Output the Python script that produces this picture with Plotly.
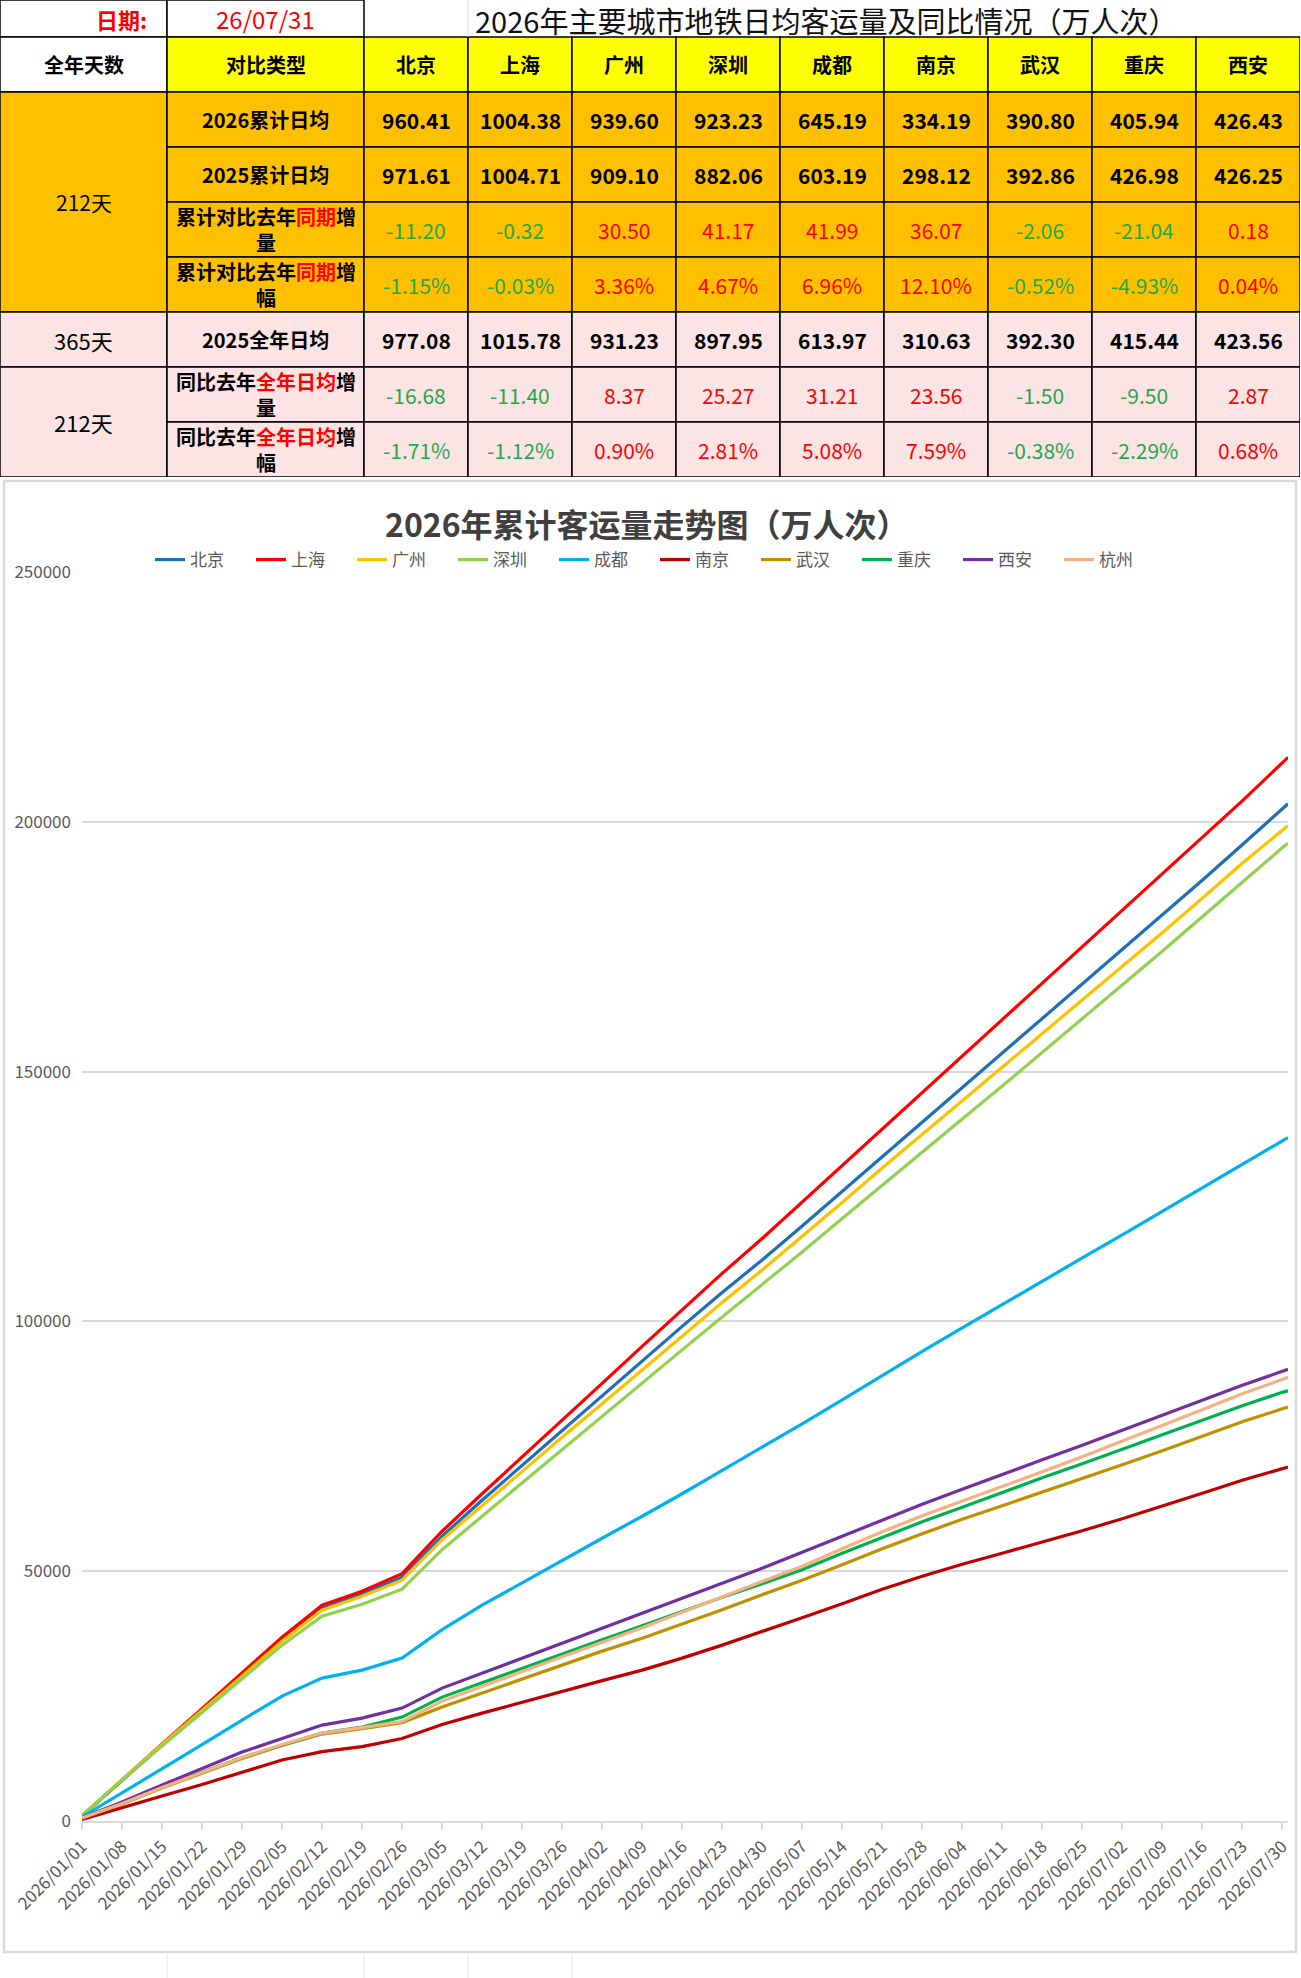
import pandas as pd
import plotly.graph_objects as go

W, H = 1301, 1978
FONT = "Noto Sans CJK SC"

# ---------------- 表格数据 ----------------
cities = ['北京', '上海', '广州', '深圳', '成都', '南京', '武汉', '重庆', '西安']
avg_2026 = [960.41, 1004.38, 939.60, 923.23, 645.19, 334.19, 390.80, 405.94, 426.43]
avg_2025 = [971.61, 1004.71, 909.10, 882.06, 603.19, 298.12, 392.86, 426.98, 426.25]
diff_same = [-11.20, -0.32, 30.50, 41.17, 41.99, 36.07, -2.06, -21.04, 0.18]
pct_same = [-1.15, -0.03, 3.36, 4.67, 6.96, 12.10, -0.52, -4.93, 0.04]
full_2025 = [977.08, 1015.78, 931.23, 897.95, 613.97, 310.63, 392.30, 415.44, 423.56]
diff_full = [-16.68, -11.40, 8.37, 25.27, 31.21, 23.56, -1.50, -9.50, 2.87]
pct_full = [-1.71, -1.12, 0.90, 2.81, 5.08, 7.59, -0.38, -2.29, 0.68]

RED_TXT = '#FF0000'
GREEN_TXT = '#1FA84A'
red = lambda s: f'<span style="color:{RED_TXT}">{s}</span>'

row_labels = [
    '2026累计日均',
    '2025累计日均',
    '累计对比去年' + red('同期') + '增<br>量',
    '累计对比去年' + red('同期') + '增<br>幅',
    '2025全年日均',
    '同比去年' + red('全年日均') + '增<br>量',
    '同比去年' + red('全年日均') + '增<br>幅',
]
row_values = [avg_2026, avg_2025, diff_same, pct_same, full_2025, diff_full, pct_full]
row_is_pct = [False, False, False, True, False, False, True]
row_signed = [False, False, True, True, False, True, True]

date_text = '26/07/31'
table_title = '2026年主要城市地铁日均客运量及同比情况（万人次）'

# ---------------- 折线数据（万人次，每周一个点） ----------------
x_dates = list(pd.date_range('2026-01-01', '2026-07-30', freq='7D').strftime('%Y-%m-%d')) + ['2026-07-31']

beijing = [1000, 8200, 15200, 22200, 29200, 36300, 42600, 45500, 48800, 57000, 64200, 71200, 78200, 85000,
           92000, 99000, 105800, 112300, 119100, 126000, 133000, 139900, 146800, 153700, 160500, 167400,
           174300, 181300, 188300, 195400, 202600, 203600]
shanghai = [1000, 8300, 15400, 22500, 29600, 36800, 43200, 46000, 49500, 58000, 65500, 72800, 80200, 87600,
            95000, 102400, 109600, 116600, 123900, 131200, 138600, 145900, 153200, 160500, 167800, 175000,
            182300, 189600, 196900, 204200, 211800, 212900]
guangzhou = [1000, 8300, 15300, 22100, 29000, 36000, 42200, 45000, 48200, 56300, 63200, 70000, 76800, 83500,
             90300, 97100, 103800, 110300, 117000, 123800, 130700, 137400, 144100, 150800, 157500, 164200,
             171000, 177800, 184700, 191700, 198300, 199200]
shenzhen = [1000, 8200, 15000, 21800, 28500, 35200, 41000, 43400, 46400, 54300, 61000, 67700, 74300, 80900,
            87600, 94300, 100900, 107300, 113900, 120600, 127300, 133900, 140500, 147100, 153800, 160500,
            167300, 174100, 181000, 188000, 194800, 195700]
chengdu = [800, 5600, 10500, 15300, 20200, 25000, 28600, 30200, 32600, 38300, 43200, 47700, 52200, 56600,
           61000, 65500, 70200, 74800, 79500, 84300, 89200, 94000, 98700, 103400, 108100, 112700,
           117300, 122000, 126800, 131500, 136100, 136800]
nanjing = [300, 2700, 5000, 7300, 9800, 12200, 13900, 14900, 16500, 19300, 21600, 23800, 26000, 28100,
           30200, 32600, 35200, 37900, 40700, 43500, 46400, 49000, 51400, 53600, 55800, 58100,
           60500, 63000, 65600, 68200, 70500, 70850]
wuhan = [600, 3400, 6600, 9500, 12500, 15100, 17400, 18500, 19700, 22800, 25600, 28400, 31200, 34000,
         36600, 39400, 42300, 45300, 48200, 51300, 54500, 57500, 60400, 63100, 65800, 68500,
         71300, 74100, 77000, 79900, 82500, 82850]
chongqing = [700, 3600, 6800, 9700, 12700, 15200, 17600, 18800, 20800, 24800, 27700, 30600, 33500, 36300,
             39100, 42000, 44800, 47500, 50300, 53600, 56800, 59900, 62800, 65800, 68700, 71500,
             74400, 77300, 80200, 83100, 85800, 86100]
xian = [600, 3800, 7200, 10500, 13800, 16500, 19200, 20600, 22600, 26600, 29600, 32600, 35600, 38600,
        41500, 44500, 47600, 50600, 53800, 57000, 60300, 63400, 66400, 69400, 72300, 75200,
        78200, 81200, 84200, 87200, 90000, 90400]
hangzhou = [600, 3500, 6700, 9700, 12700, 15300, 17600, 18700, 19900, 24000, 26900, 29900, 32900, 35800,
            38700, 41800, 44900, 47900, 51000, 54500, 57900, 61100, 64000, 67000, 69900, 72900,
            76000, 79100, 82300, 85500, 88400, 88800]

series = [
    ('北京', beijing, '#1F6FB8'),
    ('上海', shanghai, '#FF0000'),
    ('广州', guangzhou, '#FFC000'),
    ('深圳', shenzhen, '#92D050'),
    ('成都', chengdu, '#00B0F0'),
    ('南京', nanjing, '#C00000'),
    ('武汉', wuhan, '#BF9000'),
    ('重庆', chongqing, '#00B050'),
    ('西安', xian, '#7030A0'),
    ('杭州', hangzhou, '#F4B183'),
]

chart_title = '2026年累计客运量走势图（万人次）'

# ---------------- 版面（像素） ----------------
col_w = [167, 197] + [104] * 9
row_h = [37, 55, 55, 55, 55, 55, 55, 55, 55]
cx = [0]
for w in col_w:
    cx.append(cx[-1] + w)
ry = [0]
for h in row_h:
    ry.append(ry[-1] + h)

def px(x):
    return x / W

def py(y):
    return 1 - y / H

fig = go.Figure()

for name, vals, color in series:
    fig.add_trace(go.Scatter(x=x_dates, y=vals, mode='lines', name=name,
                             line=dict(color=color, width=3.2), xaxis='x', yaxis='y'))

# 表格用的坐标轴
fig.add_trace(go.Scatter(x=[], y=[], xaxis='x2', yaxis='y2', showlegend=False, hoverinfo='skip'))

shapes = []
annos = []

def cell(c0, c1, r0, r1, fill, line='#000000', lw=1.5):
    shapes.append(dict(type='rect', xref='x2', yref='y2', x0=cx[c0], x1=cx[c1], y0=ry[r0], y1=ry[r1],
                       fillcolor=fill, line=dict(color=line, width=lw), layer='below'))

def text(c0, c1, r0, r1, s, size=20, color='#000000', xanchor='center', dx=0, bold=False):
    x = (cx[c0] + cx[c1]) / 2 if xanchor == 'center' else cx[c1] + dx
    annos.append(dict(xref='x2', yref='y2', x=x, y=(ry[r0] + ry[r1]) / 2, text=s, showarrow=False,
                      xanchor=xanchor, yanchor='middle',
                      font=dict(family=FONT, size=size, color=color, weight=700 if bold else 400)))

ORANGE = '#FFC000'
PINK = '#FDE4E4'
YELLOW = '#FFFF00'

# 标题行
shapes.append(dict(type='line', xref='x2', yref='y2', x0=cx[3], x1=cx[3], y0=ry[0], y1=ry[1],
                   line=dict(color='#D6D6D6', width=1)))
cell(0, 1, 0, 1, 'white')
cell(1, 2, 0, 1, 'white')
text(0, 1, 0, 1, '日期:', size=22, color=RED_TXT, xanchor='right', dx=-18, bold=True)
text(1, 2, 0, 1, date_text, size=24, color=RED_TXT)
annos.append(dict(xref='x2', yref='y2', x=cx[3] + 5, y=(ry[0] + ry[1]) / 2 + 1, text=table_title,
                  showarrow=False, xanchor='left', yanchor='middle',
                  font=dict(family=FONT, size=29, color='#111111')))

# 表头
cell(0, 1, 1, 2, 'white')
text(0, 1, 1, 2, '全年天数', bold=True)
cell(1, 2, 1, 2, YELLOW)
text(1, 2, 1, 2, '对比类型', bold=True)
for i, c in enumerate(cities):
    cell(2 + i, 3 + i, 1, 2, YELLOW)
    text(2 + i, 3 + i, 1, 2, c, bold=True)

# 左侧合并单元格
cell(0, 1, 2, 6, ORANGE)
text(0, 1, 2, 6, '212天', size=21)
cell(0, 1, 6, 7, PINK)
text(0, 1, 6, 7, '365天', size=22)
cell(0, 1, 7, 9, PINK)
text(0, 1, 7, 9, '212天', size=22)

for r, (lab, vals) in enumerate(zip(row_labels, row_values)):
    rr = 2 + r
    fill = ORANGE if r < 4 else PINK
    cell(1, 2, rr, rr + 1, fill)
    text(1, 2, rr, rr + 1, lab, bold=True)
    for i, v in enumerate(vals):
        cell(2 + i, 3 + i, rr, rr + 1, fill)
        s = f'{v:.2f}%' if row_is_pct[r] else f'{v:.2f}'
        col = '#000000'
        if row_signed[r]:
            col = GREEN_TXT if v < 0 else RED_TXT
        text(2 + i, 3 + i, rr, rr + 1, s, size=21, color=col, bold=not row_signed[r])

# 图表外框与工作表网格线
shapes.append(dict(type='rect', xref='paper', yref='paper', x0=px(4), x1=px(1296), y0=py(1952), y1=py(481),
                   line=dict(color='#D9D9D9', width=2.5), fillcolor='rgba(0,0,0,0)', layer='below'))
for e in cx[1:5]:
    shapes.append(dict(type='line', xref='paper', yref='paper', x0=px(e), x1=px(e), y0=py(1978), y1=py(1954),
                       line=dict(color='#E6E6E6', width=1)))

annos.append(dict(xref='paper', yref='paper', x=px(647), y=py(523), text='<b>' + chart_title + '</b>',
                  showarrow=False, xanchor='center', yanchor='middle',
                  font=dict(family=FONT, size=32, color='#404040')))

fig.update_layout(
    width=W, height=H, margin=dict(l=0, r=0, t=0, b=0, autoexpand=False),
    paper_bgcolor='white', plot_bgcolor='white',
    font=dict(family=FONT, color='#595959'),
    shapes=shapes, annotations=annos,
    showlegend=True,
    legend=dict(orientation='h', x=px(150), y=py(560), xanchor='left', yanchor='middle',
                font=dict(family=FONT, size=17, color='#595959'), entrywidth=56,
                bgcolor='rgba(0,0,0,0)', traceorder='normal'),
    xaxis=dict(type='date', domain=[px(82), px(1288)], range=['2026-01-01', '2026-07-31'],
               tick0='2026-01-01', dtick=7 * 86400000, tickformat='%Y/%m/%d', tickangle=-45,
               ticks='outside', ticklen=7, tickcolor='#D9D9D9', tickwidth=1.5,
               showline=True, linecolor='#D9D9D9', linewidth=2, showgrid=False, zeroline=False,
               tickfont=dict(family=FONT, size=17, color='#595959'), anchor='y', automargin=False),
    yaxis=dict(domain=[py(1821), py(572)], range=[0, 250000], dtick=50000, tickformat='d',
               showgrid=True, gridcolor='#D9D9D9', gridwidth=1.5, zeroline=False, showline=False,
               tickfont=dict(family=FONT, size=17, color='#595959'), ticklabelstandoff=10, anchor='x',
               automargin=False),
    xaxis2=dict(domain=[0, px(1300)], range=[0, cx[-1]], visible=False, anchor='y2', fixedrange=True,
                automargin=False),
    yaxis2=dict(domain=[py(ry[-1]), 1], range=[ry[-1], 0], visible=False, anchor='x2', fixedrange=True,
                automargin=False),
)

fig.write_html("out.html", config={'displayModeBar': False},
               post_script="document.body.style.margin='0';")
